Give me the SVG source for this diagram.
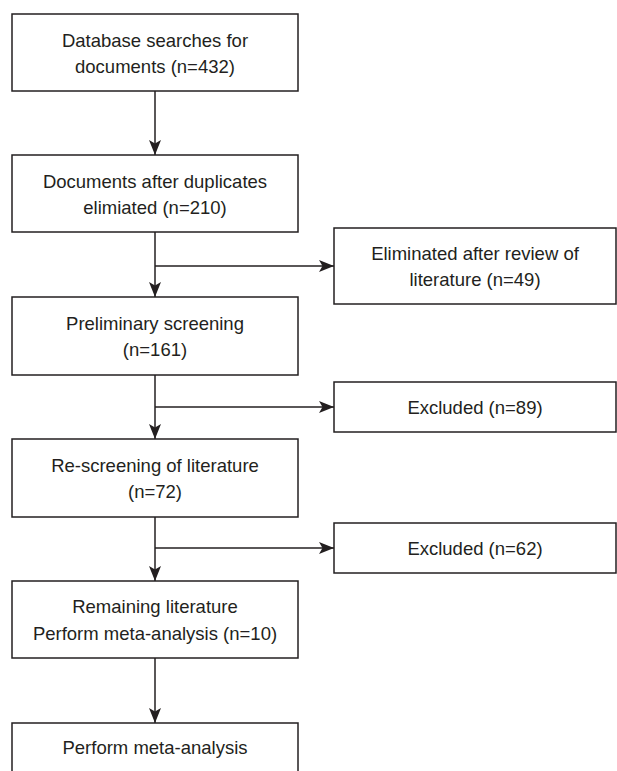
<svg xmlns="http://www.w3.org/2000/svg" width="617" height="771" viewBox="0 0 617 771">
  <style>
    .box { fill: #ffffff; stroke: #231f20; stroke-width: 1.5; }
    .lbl { font-family: "Liberation Sans", Arial, Helvetica, sans-serif; font-size: 18.5px; fill: #231f20; text-anchor: middle; }
    .conn { fill: none; stroke: #231f20; stroke-width: 1.5; }
  </style>
  <defs>
    <marker id="arrow" markerUnits="userSpaceOnUse" markerWidth="16" markerHeight="12" refX="15" refY="6" orient="auto">
      <path d="M0,0 L15,6 L0,12 L3.5,6 Z" fill="#231f20"/>
    </marker>
  </defs>
  <rect width="617" height="771" fill="#ffffff"/>

  <g id="connectors">
    <line class="conn" x1="155" y1="91" x2="155" y2="155" marker-end="url(#arrow)"/>
    <line class="conn" x1="155" y1="232" x2="155" y2="297" marker-end="url(#arrow)"/>
    <line class="conn" x1="155" y1="266" x2="334" y2="266" marker-end="url(#arrow)"/>
    <line class="conn" x1="155" y1="375" x2="155" y2="439" marker-end="url(#arrow)"/>
    <line class="conn" x1="155" y1="407" x2="334" y2="407" marker-end="url(#arrow)"/>
    <line class="conn" x1="155" y1="517" x2="155" y2="581" marker-end="url(#arrow)"/>
    <line class="conn" x1="155" y1="548" x2="334" y2="548" marker-end="url(#arrow)"/>
    <line class="conn" x1="155" y1="658" x2="155" y2="723" marker-end="url(#arrow)"/>
  </g>

  <g id="n1">
    <rect class="box" x="12" y="14" width="286" height="77"/>
    <text class="lbl" x="155" y="47">Database searches for</text>
    <text class="lbl" x="155" y="73">documents (n=432)</text>
  </g>
  <g id="n2">
    <rect class="box" x="12" y="155" width="286" height="77"/>
    <text class="lbl" x="155" y="188">Documents after duplicates</text>
    <text class="lbl" x="155" y="214">elimiated (n=210)</text>
  </g>
  <g id="n3">
    <rect class="box" x="334" y="228" width="282" height="76"/>
    <text class="lbl" x="475" y="259.5">Eliminated after review of</text>
    <text class="lbl" x="475" y="285.5">literature (n=49)</text>
  </g>
  <g id="n4">
    <rect class="box" x="12" y="297" width="286" height="78"/>
    <text class="lbl" x="155" y="330">Preliminary screening</text>
    <text class="lbl" x="155" y="356">(n=161)</text>
  </g>
  <g id="n5">
    <rect class="box" x="334" y="382" width="282" height="50"/>
    <text class="lbl" x="475" y="414">Excluded (n=89)</text>
  </g>
  <g id="n6">
    <rect class="box" x="12" y="439" width="286" height="78"/>
    <text class="lbl" x="155" y="472">Re-screening of literature</text>
    <text class="lbl" x="155" y="498">(n=72)</text>
  </g>
  <g id="n7">
    <rect class="box" x="334" y="523" width="282" height="50"/>
    <text class="lbl" x="475" y="555">Excluded (n=62)</text>
  </g>
  <g id="n8">
    <rect class="box" x="12" y="581" width="286" height="77"/>
    <text class="lbl" x="155" y="613">Remaining literature</text>
    <text class="lbl" x="155" y="639.5">Perform meta-analysis (n=10)</text>
  </g>
  <g id="n9">
    <rect class="box" x="12" y="723" width="286" height="77"/>
    <text class="lbl" x="155" y="754">Perform meta-analysis</text>
  </g>
</svg>
